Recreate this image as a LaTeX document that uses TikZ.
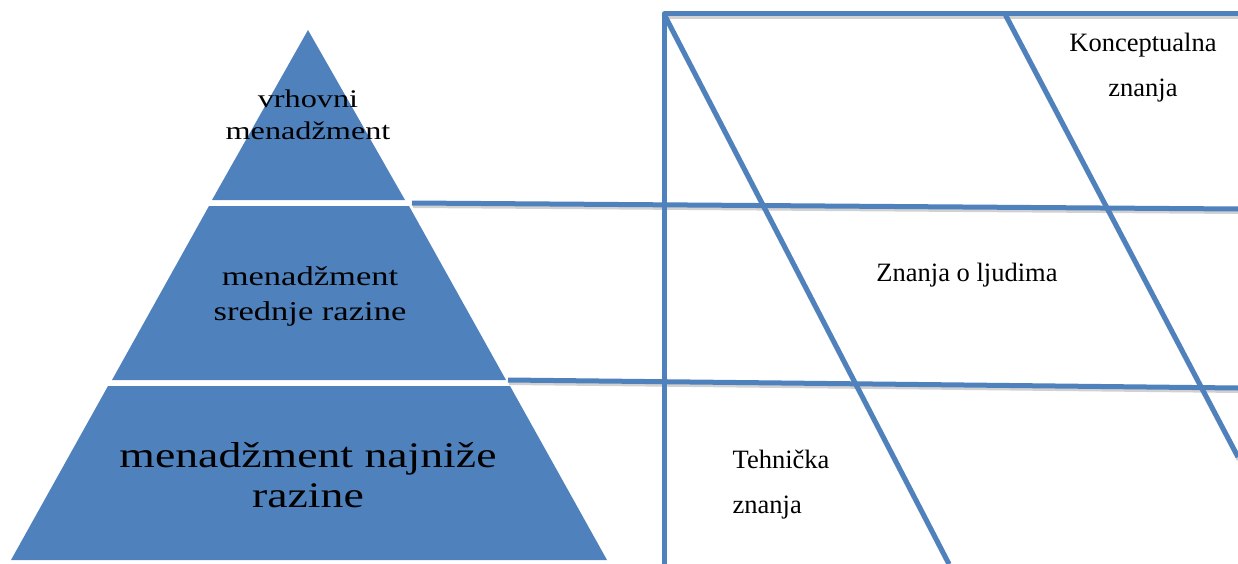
\documentclass[tikz,border=0pt]{standalone}
\usepackage{fontspec}
\setmainfont{Liberation Serif}
\newfontfamily\pyrfont[FakeStretch=1.27]{Liberation Serif}
\usetikzlibrary{positioning}
\definecolor{layerblue}{RGB}{79,129,189}
\tikzset{
  layer/.style={fill=layerblue, draw=none},
  gridline/.style={draw=layerblue, line width=5pt},
  gridshadow/.style={draw=black, opacity=0.18, line width=5pt, transform canvas={xshift=1pt, yshift=-2.5pt}},
  pyrlabel/.style={align=center, inner sep=0pt, text=black, anchor=base},
  skilllabel/.style={font=\fontsize{26.5}{45}\selectfont, inner sep=0pt, text=black, anchor=base},
}

\begin{document}
\begin{tikzpicture}[x=1pt, y=-1pt]
 \useasboundingbox (0,0) rectangle (1238,564);

 % pyramid of management levels
 \fill[layer] (308,30) -- (405,200) -- (212,200) -- cycle;
 \fill[layer] (209,206) -- (409,206) -- (506,380) -- (112,380) -- cycle;
 \fill[layer] (108,386) -- (510,386) -- (607,560) -- (11,560) -- cycle;

 % base anchor sits on the last line
 \node[pyrlabel, font=\pyrfont\fontsize{25.4}{32}\selectfont] (top) at (308,140) {vrhovni\\menadžment};
 \node[pyrlabel, font=\pyrfont\fontsize{27.2}{35}\selectfont] (middle) at (310,320) {menadžment\\srednje razine};
 \node[pyrlabel, font=\pyrfont\fontsize{36}{40}\selectfont] (bottom) at (308,507) {menadžment najniže\\razine};

 % grid of skills
 \coordinate (corner) at (664,14);
 \coordinate (topend) at (1238,14);
 \coordinate (leftend) at (664,564);
 \coordinate (diaga) at (949,564);
 \coordinate (diagb-top) at (1005,14);
 \coordinate (diagb-end) at (1238,457);
 \coordinate (linea-start) at (412,203);
 \coordinate (linea-end) at (1238,209);
 \coordinate (lineb-start) at (508,380);
 \coordinate (lineb-end) at (1238,388);

 \draw[gridshadow] (corner) -- (topend);
 \draw[gridshadow] (corner) -- (diaga);
 \draw[gridshadow] (diagb-top) -- (diagb-end);
 \draw[gridshadow] (linea-start) -- (linea-end);
 \draw[gridshadow] (lineb-start) -- (lineb-end);

 \draw[gridline, line join=round] (leftend) -- (corner) -- (topend);
 \draw[gridline] (corner) -- (diaga);
 \draw[gridline] (diagb-top) -- (diagb-end);
 \draw[gridline] (linea-start) -- (linea-end);
 \draw[gridline] (lineb-start) -- (lineb-end);

 \node[skilllabel, align=center] (concept) at (1143,97) {Konceptualna\\znanja};
 \node[skilllabel] (people) at (967,281) {Znanja o ljudima};
 \node[skilllabel, align=left] (tech) at (781,513) {Tehnička\\znanja};
\end{tikzpicture}
\end{document}
